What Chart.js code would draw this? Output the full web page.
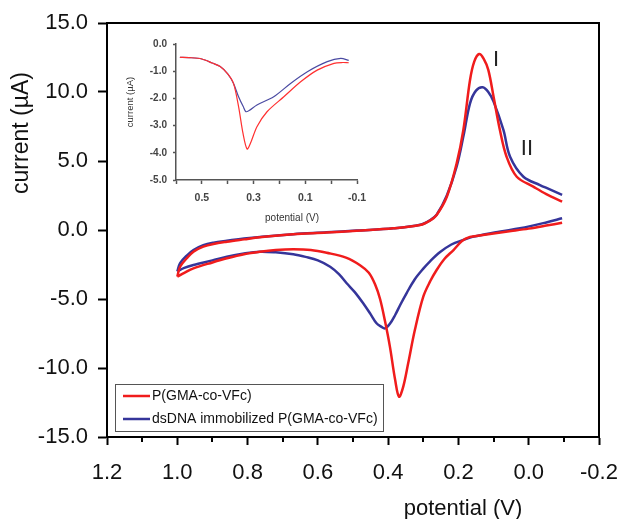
<!DOCTYPE html>
<html>
<head>
<meta charset="utf-8">
<script src="https://cdn.jsdelivr.net/npm/chart.js@4.4.0/dist/chart.umd.min.js"></script>
<style>
  html, body { margin: 0; padding: 0; background: #fff; }
  #wrap { position: relative; width: 619px; height: 519px; }
  #main { position: absolute; left: 0; top: 0; }
  #inset { position: absolute; left: 112px; top: 32px; }
</style>
</head>
<body>
<div id="wrap">
  <canvas id="main" width="619" height="519"></canvas>
  <canvas id="inset" width="256" height="200"></canvas>
</div>
<script>
const redLabel = 'P(GMA-co-VFc)';
const blueLabel = 'dsDNA immobilized P(GMA-co-VFc)';
const peakNames = ['I', 'II'];

// main CV: upper branch 1.0 -> -0.1 V, lower branch -0.1 -> 1.0 V
const redUpperPotential = [1.0, 0.992, 0.973, 0.954, 0.926, 0.897, 0.859, 0.81, 0.765, 0.67, 0.575, 0.49, 0.385, 0.309, 0.28, 0.262, 0.233, 0.205, 0.186, 0.167, 0.155, 0.141, 0.128, 0.115, 0.1, 0.082, 0.063, 0.034, -0.013, -0.05, -0.095];
const redUpperCurrent = [-3.38, -2.66, -2.05, -1.57, -1.21, -1.01, -0.85, -0.68, -0.53, -0.31, -0.19, -0.05, 0.12, 0.36, 0.7, 1.09, 2.41, 4.83, 7.25, 10.87, 12.2, 12.75, 12.4, 11.6, 9.66, 7.25, 5.31, 3.86, 3.14, 2.6, 2.05];
const redLowerPotential = [-0.095, -0.05, 0.0, 0.05, 0.1, 0.14, 0.167, 0.19, 0.214, 0.24, 0.262, 0.28, 0.3, 0.324, 0.343, 0.357, 0.369, 0.38, 0.395, 0.409, 0.423, 0.437, 0.455, 0.48, 0.52, 0.575, 0.62, 0.67, 0.72, 0.765, 0.81, 0.859, 0.9, 0.954, 0.98, 1.0];
const redLowerCurrent = [0.53, 0.32, 0.1, -0.08, -0.25, -0.4, -0.5, -0.8, -1.45, -2.1, -2.9, -3.7, -4.83, -7.25, -9.66, -11.35, -12.08, -10.87, -8.45, -6.6, -5.0, -3.95, -3.1, -2.55, -2.0, -1.65, -1.45, -1.4, -1.45, -1.57, -1.75, -2.05, -2.35, -2.78, -3.1, -3.38];

const blueUpperPotential = [1.0, 0.992, 0.973, 0.954, 0.926, 0.897, 0.859, 0.81, 0.765, 0.67, 0.575, 0.49, 0.385, 0.309, 0.28, 0.262, 0.233, 0.205, 0.185, 0.167, 0.15, 0.131, 0.115, 0.1, 0.072, 0.053, 0.015, -0.032, -0.06, -0.095];
const blueUpperCurrent = [-3.0, -2.4, -1.85, -1.45, -1.1, -0.92, -0.78, -0.62, -0.5, -0.3, -0.17, -0.04, 0.12, 0.38, 0.72, 1.1, 2.5, 4.6, 6.9, 9.18, 10.1, 10.34, 10.0, 9.3, 7.25, 5.31, 3.86, 3.26, 2.95, 2.55];
const blueLowerPotential = [-0.095, -0.05, 0.025, 0.08, 0.12, 0.16, 0.186, 0.22, 0.252, 0.28, 0.3, 0.325, 0.347, 0.365, 0.38, 0.395, 0.409, 0.42, 0.433, 0.45, 0.471, 0.495, 0.518, 0.54, 0.565, 0.6, 0.635, 0.67, 0.72, 0.765, 0.81, 0.859, 0.9, 0.954, 0.98, 1.0];
const blueLowerCurrent = [0.85, 0.55, 0.12, -0.1, -0.29, -0.5, -0.72, -1.05, -1.6, -2.25, -2.8, -3.6, -4.55, -5.4, -6.16, -6.8, -7.13, -7.0, -6.76, -6.1, -5.31, -4.5, -3.86, -3.2, -2.66, -2.2, -1.95, -1.76, -1.62, -1.57, -1.7, -1.93, -2.2, -2.54, -2.75, -3.0];

// inset: reduction sweep
const insetRedPotential = [0.585, 0.55, 0.5, 0.46, 0.429, 0.4, 0.378, 0.358, 0.341, 0.325, 0.31, 0.287, 0.248, 0.183, 0.118, 0.054, -0.011, -0.045, -0.068];
const insetRedCurrent = [-0.49, -0.5, -0.55, -0.7, -0.83, -1.1, -1.44, -2.3, -3.28, -3.86, -3.6, -3.04, -2.49, -1.94, -1.39, -0.96, -0.71, -0.68, -0.69];
const insetBluePotential = [0.585, 0.55, 0.5, 0.46, 0.429, 0.4, 0.378, 0.358, 0.34, 0.328, 0.287, 0.222, 0.157, 0.092, 0.015, -0.037, -0.068];
const insetBlueCurrent = [-0.49, -0.5, -0.55, -0.7, -0.83, -1.1, -1.44, -1.94, -2.3, -2.49, -2.24, -1.94, -1.45, -1.02, -0.65, -0.53, -0.6];

const toPoints = (xs, ys) => xs.map((x, i) => ({ x: x, y: ys[i] }));
// two branches of one voltammogram, with a break between their open ends
const loop = (ux, uy, lx, ly) => toPoints(ux, uy).concat([{ x: ux[ux.length - 1], y: null }], toPoints(lx, ly));
const fmt = (v) => (Math.abs(v) < 1e-9 ? 0 : v).toFixed(1);

const FONT = 'Liberation Sans, Arial, sans-serif';
const RED = '#f01c1c';
const BLUE = '#35359a';

const mainDecor = {
  id: 'mainDecor',
  afterDraw(chart, args, opts) {
    const ctx = chart.ctx;
    const a = chart.chartArea;
    const xs = chart.scales.x, ys = chart.scales.y;
    ctx.save();
    ctx.strokeStyle = '#000';
    ctx.lineWidth = 2;
    ctx.strokeRect(a.left, a.top, a.right - a.left, a.bottom - a.top);

    // minor x ticks
    ctx.beginPath();
    for (let k = -1; k <= 11; k += 2) {
      const px = Math.round(xs.getPixelForValue(k / 10));
      ctx.moveTo(px, a.bottom);
      ctx.lineTo(px, a.bottom + 5);
    }
    ctx.stroke();

    // axis titles
    ctx.fillStyle = '#111';
    ctx.font = '22px ' + FONT;
    ctx.textAlign = 'center';
    ctx.textBaseline = 'middle';
    ctx.fillText(opts.xTitle, opts.xTitlePos[0], opts.xTitlePos[1]);
    ctx.save();
    ctx.font = '23px ' + FONT;
    ctx.translate(opts.yTitlePos[0], opts.yTitlePos[1]);
    ctx.rotate(-Math.PI / 2);
    ctx.fillText(opts.yTitle, 0, 0);
    ctx.restore();

    // peak labels
    ctx.font = '22px ' + FONT;
    ctx.fillStyle = '#222';
    opts.peaks.forEach((p, i) => {
      ctx.fillText(peakNames[i], xs.getPixelForValue(p[0]), ys.getPixelForValue(p[1]));
    });

    // legend box
    const bx = a.left + 8, by = a.bottom - 53, bw = 268, bh = 47;
    ctx.strokeStyle = '#555';
    ctx.lineWidth = 1;
    ctx.strokeRect(bx + 0.5, by + 0.5, bw, bh);
    ctx.font = '14px ' + FONT;
    ctx.textAlign = 'left';
    chart.data.datasets.forEach((ds, i) => {
      const ly = by + 12 + i * 23;
      ctx.strokeStyle = ds.borderColor;
      ctx.lineWidth = 2.5;
      ctx.beginPath();
      ctx.moveTo(bx + 8, ly);
      ctx.lineTo(bx + 35, ly);
      ctx.stroke();
      ctx.fillStyle = '#111';
      ctx.fillText(ds.label, bx + 37, ly);
    });
    ctx.restore();
  }
};

new Chart(document.getElementById('main'), {
  type: 'scatter',
  data: {
    datasets: [
      { label: redLabel, data: loop(redUpperPotential, redUpperCurrent, redLowerPotential, redLowerCurrent), borderColor: RED, borderWidth: 2.5, showLine: true, spanGaps: false, pointRadius: 0, tension: 0.35 },
      { label: blueLabel, data: loop(blueUpperPotential, blueUpperCurrent, blueLowerPotential, blueLowerCurrent), borderColor: BLUE, borderWidth: 2.5, showLine: true, spanGaps: false, pointRadius: 0, tension: 0.35 }
    ]
  },
  options: {
    responsive: false,
    animation: false,
    layout: { padding: { top: 23, right: 20, left: 0, bottom: 0 } },
    scales: {
      x: {
        type: 'linear',
        reverse: true,
        min: -0.2,
        max: 1.2,
        afterFit: (s) => { s.height = 82; s.paddingLeft = 0; s.paddingRight = 0; },
        border: { display: true, color: '#000', width: 2 },
        grid: { drawOnChartArea: false, drawTicks: true, tickLength: 8, tickColor: '#000', tickWidth: 2 },
        ticks: { stepSize: 0.2, autoSkip: false, maxRotation: 0, padding: 15, color: '#111', font: { family: FONT, size: 22 }, callback: fmt }
      },
      y: {
        type: 'linear',
        min: -15,
        max: 15,
        afterFit: (s) => { s.width = 107; s.paddingTop = 0; s.paddingBottom = 0; },
        border: { display: true, color: '#000', width: 2 },
        grid: { drawOnChartArea: false, drawTicks: true, tickLength: 9, tickColor: '#000', tickWidth: 2 },
        ticks: { stepSize: 5, padding: 10, color: '#111', font: { family: FONT, size: 22 }, callback: fmt }
      }
    },
    plugins: {
      legend: { display: false },
      tooltip: { enabled: false },
      mainDecor: {
        xTitle: 'potential (V)', xTitlePos: [463, 509],
        yTitle: 'current (µA)', yTitlePos: [22, 133],
        peaks: [[0.093, 12.3], [0.005, 5.9]]
      }
    }
  },
  plugins: [mainDecor]
});

const insetDecor = {
  id: 'insetDecor',
  afterDraw(chart, args, opts) {
    const ctx = chart.ctx;
    ctx.save();
    ctx.fillStyle = '#333';
    ctx.textAlign = 'center';
    ctx.textBaseline = 'middle';
    ctx.font = '10px ' + FONT;
    ctx.fillText(opts.xTitle, opts.xTitlePos[0], opts.xTitlePos[1]);
    ctx.font = '9.5px ' + FONT;
    ctx.translate(opts.yTitlePos[0], opts.yTitlePos[1]);
    ctx.rotate(-Math.PI / 2);
    ctx.fillText(opts.yTitle, 0, 0);
    ctx.restore();
  }
};

new Chart(document.getElementById('inset'), {
  type: 'scatter',
  data: {
    datasets: [
      { label: redLabel, data: toPoints(insetRedPotential, insetRedCurrent), borderColor: '#ff3030', borderWidth: 1.2, showLine: true, pointRadius: 0, tension: 0.3 },
      { label: blueLabel, data: toPoints(insetBluePotential, insetBlueCurrent), borderColor: '#4a4aa2', borderWidth: 1.2, showLine: true, pointRadius: 0, tension: 0.3 }
    ]
  },
  options: {
    responsive: false,
    animation: false,
    layout: { padding: { top: 12, right: 11, left: 0, bottom: 0 } },
    scales: {
      x: {
        type: 'linear',
        reverse: true,
        min: -0.1,
        max: 0.6,
        afterFit: (s) => { s.height = 52; s.paddingLeft = 0; s.paddingRight = 0; },
        border: { display: true, color: '#555', width: 1.5 },
        grid: { drawOnChartArea: false, drawTicks: true, tickLength: 4, tickColor: '#555', tickWidth: 1.5 },
        ticks: {
          stepSize: 0.1, autoSkip: false, maxRotation: 0, padding: 8, color: '#444', font: { family: FONT, size: 10.5, weight: 'bold' },
          callback: (v) => (Math.abs(Math.round(v * 10)) % 2 === 1 ? fmt(v) : '')
        }
      },
      y: {
        type: 'linear',
        min: -5,
        max: 0,
        afterFit: (s) => { s.width = 64; s.paddingTop = 0; s.paddingBottom = 0; },
        border: { display: true, color: '#555', width: 1.5 },
        grid: { drawOnChartArea: false, drawTicks: true, tickLength: 3, tickColor: '#555', tickWidth: 1.5 },
        ticks: { stepSize: 1, padding: 6, color: '#444', font: { family: FONT, size: 10, weight: 'bold' }, callback: fmt }
      }
    },
    plugins: {
      legend: { display: false },
      tooltip: { enabled: false },
      insetDecor: {
        xTitle: 'potential (V)', xTitlePos: [180, 186],
        yTitle: 'current (µA)', yTitlePos: [18, 70]
      }
    }
  },
  plugins: [insetDecor]
});
</script>
</body>
</html>
